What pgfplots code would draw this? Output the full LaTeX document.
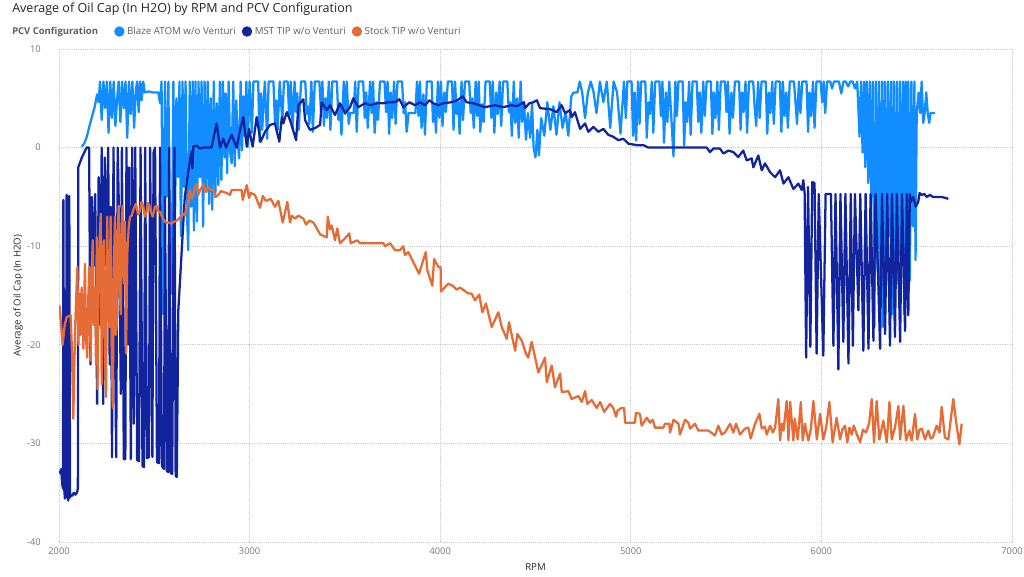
\documentclass[border=0pt]{standalone}
\usepackage{fontspec}
\setmainfont{Open Sans}
\usepackage{pgfplots}
\pgfplotsset{compat=1.18}
\definecolor{lb}{HTML}{118DFF}
\definecolor{db}{HTML}{12239E}
\definecolor{orng}{HTML}{E66C37}
\definecolor{titlec}{HTML}{252423}
\definecolor{legc}{HTML}{605E5C}
\definecolor{tickc}{HTML}{777777}
\definecolor{gridc}{HTML}{CCCCCC}
\begin{document}
\begin{tikzpicture}
\path[use as bounding box] (-44.25pt,-25.5pt) rectangle (723.75pt,406.5pt);
\begin{axis}[
 at={(0pt,0pt)}, anchor=south west, scale only axis,
 width=714.75pt, height=369.75pt,
 xmin=2000, xmax=7000, ymin=-40, ymax=10,
 xtick={2000,3000,4000,5000,6000,7000},
 ytick={-40,-30,-20,-10,0,10},
 axis line style={draw=none},
 major tick length=0pt,
 grid=major,
 major grid style={gridc, densely dotted, line width=0.7pt},
 /pgf/number format/1000 sep={},
 /pgf/number format/assume math mode=true,
 tick label style={font=\fontsize{7}{8}\selectfont, text=tickc},
 yticklabel style={anchor=east, inner sep=0pt},
 yticklabel={\pgfmathprintnumber{\tick}\hspace*{13.5pt}},
 xticklabel style={anchor=base, inner sep=0pt, yshift=-9pt},
 xlabel={RPM}, ylabel={Average of Oil Cap (In H2O)},
 label style={font=\fontsize{7.2}{8}\selectfont, text=titlec},
 xlabel style={at={(axis description cs:0.5,-0.0568)}, anchor=base},
 ylabel style={at={(axis description cs:-0.043,0.5)}, anchor=center},
 legend columns=-1,
 legend style={at={(axis description cs:0.0577,1.0355)}, anchor=west, draw=none, fill=none, inner sep=0pt, font=\fontsize{7.3}{8}\selectfont, text=legc, /tikz/every even column/.append style={column sep=2.5pt}},
 legend image code/.code={\fill[#1] (3pt,0pt) circle (3pt);},
 every axis plot/.append style={line width=1.7pt, line join=round},
]
% Blaze ATOM w/o Venturi
\addplot[color=lb] coordinates {
(2119,0.1)(2132,0.4)(2146,1.1)(2160,2.2)(2174,3.2)(2188,4.2)(2200,5.4)(2208,4.6)(2215,6.7)(2224,2.8)(2233,6.7)(2242,4.0)(2251,6.7)(2260,1.5)(2269,6.7)(2278,3.0)(2287,6.7)(2296,2.2)(2305,5.0)(2313,6.7)(2322,2.6)(2331,6.7)(2340,4.0)(2349,6.7)(2358,1.0)(2367,6.7)(2376,3.4)(2385,6.7)(2394,2.0)(2403,5.8)(2410,6.7)(2418,3.6)(2426,6.7)(2434,4.8)(2442,6.7)(2450,5.6)(2470,5.7)(2490,5.6)(2505,5.6)(2521,5.6)(2530,4.5)(2538,6.7)(2547,-16.9)(2556,6.7)(2565,-5.0)(2574,6.7)(2582,-12.0)(2591,-14.8)(2600,6.7)(2608,-8.0)(2616,5.0)(2624,-3.0)(2632,6.7)(2640,-9.0)(2648,6.7)(2656,-4.0)(2664,6.7)(2672,-7.0)(2678,-10.4)(2686,6.7)(2694,-6.0)(2702,6.7)(2708,-8.4)(2716,6.7)(2724,-7.5)(2732,6.7)(2740,-3.0)(2748,6.7)(2756,-8.0)(2764,6.7)(2772,-4.5)(2780,6.7)(2788,-5.7)(2796,5.0)(2804,-6.3)(2812,6.7)(2820,-5.0)(2828,4.5)(2836,-3.8)(2844,6.7)(2852,-3.3)(2860,6.7)(2868,-1.0)(2875,5.5)(2882,-2.6)(2890,6.7)(2898,-0.5)(2906,-1.6)(2914,6.7)(2922,-1.9)(2930,4.8)(2938,0.5)(2945,-1.1)(2953,6.7)(2960,-0.3)(2968,5.2)(2975,1.2)(2983,6.7)(2990,0.1)
(3000,6.7)(3012,1.5)(3020,6.7)(3045,6.7)(3052,0.6)(3060,5.5)(3066,1.8)(3080,6.7)(3092,0.9)(3100,6.7)(3125,6.7)(3133,2.5)(3140,4.8)(3147,1.8)(3158,6.7)(3172,2.6)(3180,6.7)(3200,6.7)(3208,3.0)(3216,6.7)(3226,2.0)(3236,6.7)(3244,3.6)(3250,5.5)(3258,1.8)(3270,6.7)(3292,6.7)(3300,3.4)(3306,4.2)(3314,2.4)(3324,6.7)(3332,1.6)(3342,6.7)(3366,6.7)(3374,3.8)(3382,6.7)(3390,2.2)(3398,5.0)(3406,3.0)(3416,6.7)(3424,1.8)(3434,6.7)(3458,6.7)(3466,2.8)(3474,4.4)(3482,1.3)(3494,6.7)(3502,3.4)(3510,6.7)(3520,2.4)(3528,3.5)(3546,3.5)(3554,6.7)(3562,1.6)(3572,6.7)(3596,6.7)(3604,3.0)(3612,5.6)(3620,2.0)(3632,6.7)(3640,3.5)(3648,6.7)(3656,1.5)(3666,4.6)(3674,2.8)(3684,6.7)(3708,6.7)(3716,3.6)(3724,6.7)(3732,1.4)(3740,5.6)(3748,3.0)(3758,6.7)(3766,2.4)(3776,6.7)(3800,6.7)(3808,3.5)(3816,4.6)(3824,1.6)(3834,3.5)(3870,3.5)(3878,6.7)(3886,3.2)(3894,6.7)(3902,2.0)(3912,5.4)(3920,1.3)(3930,6.7)(3955,6.7)(3962,2.6)(3970,4.4)(3978,1.5)(3988,6.7)(3996,3.0)(4004,6.7)(4012,2.2)(4022,5.6)(4030,3.6)(4040,6.7)(4062,6.7)(4070,1.8)(4078,6.7)(4086,3.4)(4094,4.6)(4102,1.4)(4112,6.7)(4120,2.8)(4130,6.7)(4152,6.7)(4160,3.5)(4168,5.0)(4176,2.0)(4186,6.7)(4194,3.2)(4202,6.7)(4210,1.6)(4220,4.4)(4228,2.6)(4238,6.7)(4260,6.7)(4268,3.0)(4276,6.7)(4284,1.5)(4294,5.6)(4302,3.4)(4312,6.7)(4320,2.2)(4330,6.7)(4352,6.7)(4360,3.6)(4368,4.6)(4376,1.2)(4386,6.7)(4394,2.5)(4404,5.0)(4412,1.0)(4422,6.7)(4430,2.6)(4440,4.4)(4450,0.8)(4460,3.5)(4472,1.0)(4482,4.5)(4490,0.0)(4500,-1.0)(4510,1.8)(4518,-0.8)(4530,3.0)(4546,1.2)(4562,4.6)(4578,1.8)(4594,4.2)(4610,1.3)(4626,4.6)(4642,2.0)(4658,3.6)(4672,1.2)(4688,5.2)(4700,5.6)(4720,5.6)(4732,6.7)(4745,5.6)(4760,3.0)(4775,5.6)(4790,6.7)(4805,5.6)(4820,3.5)(4838,6.7)(4856,4.6)(4874,6.7)(4892,2.0)(4910,6.7)(4928,5.6)(4946,1.4)(4964,6.7)(4974,3.0)(4982,6.7)(5004,6.7)(5012,1.2)(5020,5.6)(5028,0.7)(5038,6.7)(5046,2.4)(5054,6.7)(5076,6.7)(5084,1.0)(5092,4.6)(5100,3.4)(5110,6.7)(5118,1.5)(5128,6.7)(5150,6.7)(5158,3.2)(5166,6.7)(5174,0.5)(5184,5.6)(5192,2.6)(5202,6.7)(5224,-0.9)(5234,6.7)(5242,3.2)(5250,6.7)(5272,6.7)(5280,0.2)(5288,4.6)(5296,2.6)(5306,6.7)(5314,1.3)(5324,6.7)(5346,6.7)(5354,2.6)(5362,5.6)(5370,1.5)(5380,6.7)(5388,3.2)(5398,6.7)(5420,6.7)(5428,1.4)(5436,5.6)(5444,3.0)(5454,6.7)(5462,1.8)(5472,6.7)(5494,6.7)(5502,3.6)(5510,6.7)(5518,1.4)(5528,5.6)(5536,3.0)(5546,6.7)(5568,6.7)(5576,1.8)(5584,5.6)(5592,3.6)(5602,6.7)(5610,1.5)(5620,6.7)(5642,6.7)(5650,4.0)(5658,2.2)(5668,6.7)(5676,3.0)(5686,6.7)(5708,6.7)(5716,1.4)(5724,5.6)(5732,3.5)(5742,6.7)(5750,2.4)(5760,6.7)(5782,6.7)(5790,1.6)(5798,6.7)(5806,3.2)(5816,5.6)(5824,2.0)(5834,6.7)(5856,6.7)(5864,4.6)(5872,2.4)(5882,6.7)(5890,3.5)(5900,6.7)(5922,6.7)(5930,1.6)(5938,5.6)(5946,3.2)(5956,6.7)(5964,2.0)(5974,6.7)(5996,6.7)(6004,4.6)(6012,6.7)(6020,3.5)(6030,6.7)(6046,6.7)(6056,6.0)(6066,6.7)(6080,6.7)(6092,6.7)(6104,5.5)(6116,6.7)(6128,6.7)(6140,6.2)(6152,6.7)(6164,6.7)(6176,6.0)(6188,6.7)(6200,1.1)(6208,6.7)(6216,-0.5)(6224,6.7)(6230,-2.0)(6238,6.7)(6246,-3.6)(6254,6.7)(6262,-5.0)(6270,6.7)(6278,-18.2)(6286,6.7)(6294,-12.5)(6302,6.7)(6310,-15.0)(6318,6.7)(6325,-18.2)(6333,6.7)(6341,-10.0)(6349,6.7)(6357,-9.0)(6365,6.7)(6372,-16.9)(6380,6.7)(6388,-12.0)(6396,6.7)(6404,-13.8)(6412,6.7)(6420,-11.0)(6428,6.7)(6434,-16.9)(6442,6.7)(6448,-9.7)(6456,6.7)(6464,-13.5)(6472,6.7)(6480,-8.0)(6488,6.7)(6494,-11.4)(6500,3.5)(6510,5.6)(6518,3.5)(6526,6.7)(6534,2.5)(6542,3.5)(6550,5.6)(6558,3.5)(6566,2.5)(6572,3.5)(6585,3.5)(6596,3.5)
};
\addlegendentry{Blaze ATOM w/o Venturi}
% MST TIP w/o Venturi
\addplot[color=db] coordinates {
(2000,-32.8)(2006,-33.0)(2012,-32.6)(2016,-34.0)(2021,-34.6)(2023,-5.3)(2027,-34.5)(2031,-35.6)(2036,-35.2)(2040,-4.8)(2044,-35.3)(2049,-35.8)(2054,-4.9)(2058,-35.5)(2063,-35.2)(2070,-35.3)(2078,-35.0)(2086,-35.2)(2094,-35.0)(2099,-34.6)(2101,-2.0)(2120,-1.0)(2145,0.0)(2158,0.0)(2165,-22.0)(2172,-5.0)(2180,-12.0)(2190,-4.7)(2200,-26.0)(2208,-3.0)(2216,-18.0)(2224,0.0)(2232,-26.0)(2240,-1.0)(2250,-12.0)(2258,0.0)(2266,-22.0)(2272,-6.0)(2278,-31.4)(2286,0.0)(2294,-20.0)(2300,-31.4)(2308,0.0)(2316,-8.0)(2324,-25.0)(2330,0.0)(2340,-31.6)(2348,-31.6)(2354,0.0)(2362,-20.0)(2368,-2.0)(2377,-31.6)(2384,0.0)(2392,-28.0)(2400,0.0)(2410,-31.7)(2420,-31.8)(2428,0.0)(2438,-32.3)(2446,-32.4)(2452,0.0)(2462,-31.5)(2472,-31.4)(2478,0.0)(2490,-31.4)(2496,-0.5)(2504,0.0)(2514,-31.9)(2525,-32.0)(2530,0.0)(2540,-32.3)(2551,-32.6)(2556,-5.0)(2566,-32.8)(2573,-32.9)(2578,0.0)(2586,-33.0)(2594,-33.1)(2600,-12.0)(2606,0.0)(2612,-33.3)(2618,-33.4)(2626,-16.5)(2644,-10.4)(2660,-5.0)(2670,-3.6)(2687,-1.3)(2696,-0.4)(2700,-2.1)(2705,0.1)(2722,0.2)(2740,-0.1)(2757,0.0)(2800,0.0)(2827,2.45)(2845,0.0)(2862,0.9)(2876,0.0)(2906,1.3)(2932,0.0)(2950,1.8)(2967,3.1)(2985,0.1)(2997,1.9)(3016,0.1)(3037,3.1)(3058,0.6)(3081,1.6)(3107,2.3)(3133,2.45)(3156,0.6)(3169,3.1)(3177,2.45)(3195,3.6)(3212,2.8)(3244,0.75)(3256,4.3)(3282,4.9)(3291,2.8)(3317,1.8)(3345,2.0)(3370,2.3)(3378,4.6)(3405,3.8)(3422,4.3)(3448,3.3)(3474,4.5)(3501,3.5)(3527,4.1)(3544,5.0)(3570,4.1)(3606,4.5)(3632,4.3)(3667,4.5)(3702,4.5)(3728,4.6)(3763,4.6)(3786,4.9)(3807,4.1)(3838,4.6)(3868,4.3)(3894,4.6)(3920,4.3)(3943,4.8)(3964,4.5)(3990,4.3)(4016,4.5)(4060,4.6)(4090,4.8)(4118,5.2)(4139,4.6)(4174,4.5)(4235,4.1)(4288,4.3)(4331,4.1)(4375,4.3)(4402,4.2)(4440,4.6)(4445,4.0)(4468,4.5)(4489,4.6)(4507,4.8)(4524,4.0)(4576,3.9)(4611,3.6)(4637,4.3)(4655,3.5)(4681,3.8)(4690,3.1)(4707,3.6)(4734,1.9)(4760,2.45)(4777,1.6)(4804,2.1)(4830,1.6)(4856,1.9)(4882,1.3)(4908,1.1)(4935,0.75)(4961,0.9)(4987,0.4)(5031,0.25)(5066,0.25)(5092,0.0)(5398,0.0)(5415,-0.45)(5433,-0.1)(5468,-0.1)(5486,-0.6)(5512,-0.3)(5538,-0.45)(5564,-0.95)(5590,-0.3)(5608,-1.3)(5634,-1.1)(5643,-2.0)(5669,-0.8)(5687,-2.3)(5704,-1.6)(5731,-2.5)(5757,-3.0)(5783,-2.3)(5801,-3.65)(5827,-3.0)(5853,-4.2)(5879,-3.65)(5897,-4.3)(5905,-3.3)(5912,-4.6)(5920,-21.3)(5930,-4.0)(5942,-20.2)(5952,-3.5)(5964,-3.6)(5975,-20.9)(5986,-4.7)(6010,-21.1)(6022,-4.7)(6050,-4.7)(6063,-20.1)(6074,-4.7)(6089,-22.5)(6100,-4.7)(6115,-19.7)(6126,-4.7)(6142,-21.9)(6154,-4.7)(6165,-20.1)(6176,-4.7)(6194,-16.5)(6204,-4.7)(6220,-20.6)(6232,-4.7)(6247,-20.4)(6258,-4.7)(6273,-19.6)(6284,-4.7)(6296,-12.0)(6308,-20.4)(6318,-4.7)(6334,-18.9)(6345,-4.7)(6360,-20.1)(6370,-4.7)(6386,-19.2)(6396,-4.7)(6413,-19.7)(6423,-4.7)(6439,-18.6)(6448,-4.7)(6456,-17.0)(6464,-4.7)(6470,-5.5)(6482,-5.0)(6495,-6.0)(6508,-5.5)(6515,-4.6)(6526,-4.8)(6540,-4.7)(6552,-5.0)(6570,-4.8)(6585,-5.0)(6605,-5.0)(6630,-5.0)(6650,-5.1)(6666,-5.2)
};
\addlegendentry{MST TIP w/o Venturi}
% Stock TIP w/o Venturi
\addplot[color=orng] coordinates {
(2003,-16.0)(2019,-20.0)(2030,-18.0)(2040,-17.2)(2061,-17.0)(2068,-20.5)(2075,-27.5)(2085,-18.0)(2096,-12.1)(2102,-20.0)(2107,-14.8)(2113,-19.0)(2119,-14.2)(2128,-20.4)(2136,-11.8)(2142,-19.5)(2148,-21.3)(2154,-15.0)(2159,-12.1)(2166,-21.6)(2172,-12.5)(2177,-9.4)(2183,-18.0)(2189,-14.2)(2194,-22.0)(2198,-9.1)(2202,-24.5)(2206,-16.9)(2212,-10.0)(2219,-6.7)(2224,-24.0)(2230,-11.0)(2236,-9.4)(2241,-20.0)(2247,-25.3)(2253,-7.0)(2258,-15.0)(2264,-18.2)(2271,-7.0)(2276,-20.0)(2282,-26.4)(2288,-12.0)(2294,-7.0)(2298,-19.0)(2303,-17.9)(2308,-9.0)(2313,-5.9)(2318,-14.0)(2324,-16.9)(2329,-8.0)(2334,-5.9)(2341,-13.8)(2346,-7.5)(2352,-20.9)(2358,-10.8)(2366,-8.0)(2373,-7.0)(2381,-6.9)(2392,-6.2)(2404,-5.7)(2415,-6.8)(2425,-6.4)(2433,-5.5)(2442,-5.9)(2450,-7.0)(2460,-6.5)(2467,-5.6)(2474,-5.9)(2483,-6.6)(2492,-7.0)(2503,-6.0)(2513,-5.9)(2522,-6.5)(2530,-6.5)(2545,-7.2)(2561,-7.6)(2575,-7.6)(2591,-7.7)(2605,-7.5)(2618,-7.4)(2635,-7.1)(2649,-6.7)(2660,-6.9)(2670,-6.0)(2679,-5.5)(2687,-4.3)(2696,-5.2)(2705,-4.8)(2713,-4.0)(2723,-3.7)(2731,-4.8)(2740,-4.3)(2750,-4.0)(2757,-3.7)(2770,-4.5)(2783,-4.0)(2796,-4.3)(2810,-4.3)(2822,-5.0)(2836,-4.8)(2850,-4.4)(2862,-4.5)(2880,-4.6)(2897,-4.8)(2906,-4.3)(2932,-4.3)(2958,-4.3)(2964,-5.3)(2985,-3.8)(2997,-5.1)(3006,-4.6)(3028,-4.8)(3055,-6.1)(3069,-4.9)(3086,-5.4)(3111,-5.2)(3133,-6.0)(3151,-5.4)(3174,-7.6)(3198,-5.5)(3212,-7.6)(3221,-6.9)(3238,-7.2)(3256,-6.9)(3282,-7.2)(3296,-7.8)(3314,-7.4)(3335,-7.6)(3370,-8.8)(3405,-9.1)(3410,-7.0)(3422,-8.3)(3431,-7.9)(3448,-9.4)(3460,-8.2)(3474,-9.7)(3501,-9.2)(3523,-8.7)(3531,-9.7)(3565,-9.4)(3579,-9.7)(3702,-9.7)(3710,-10.0)(3737,-9.7)(3763,-10.4)(3789,-10.4)(3806,-10.0)(3815,-10.9)(3833,-10.6)(3889,-12.8)(3924,-10.6)(3933,-12.5)(3959,-14.0)(3968,-11.3)(3990,-12.1)(4002,-12.1)(4004,-14.6)(4042,-13.8)(4065,-14.0)(4086,-14.4)(4104,-14.2)(4148,-14.8)(4165,-14.8)(4183,-15.5)(4205,-14.9)(4221,-16.7)(4240,-15.8)(4270,-18.2)(4305,-16.7)(4323,-18.2)(4349,-19.4)(4361,-17.7)(4393,-20.6)(4405,-18.9)(4428,-19.6)(4450,-20.9)(4462,-21.3)(4480,-19.7)(4515,-22.8)(4550,-21.3)(4559,-23.8)(4585,-22.1)(4602,-24.3)(4629,-22.9)(4638,-24.8)(4672,-24.7)(4690,-25.5)(4725,-25.2)(4743,-25.8)(4760,-24.7)(4772,-26.0)(4795,-25.6)(4821,-26.4)(4839,-25.8)(4860,-26.8)(4891,-26.0)(4908,-26.4)(4923,-27.3)(4930,-26.7)(4950,-26.4)(4965,-26.4)(4970,-27.9)(5022,-27.9)(5027,-26.9)(5048,-27.0)(5057,-28.2)(5084,-27.4)(5101,-27.9)(5115,-27.6)(5127,-28.4)(5171,-28.4)(5180,-28.0)(5202,-28.0)(5206,-28.9)(5224,-27.6)(5250,-28.0)(5258,-29.1)(5285,-27.6)(5302,-27.9)(5311,-28.5)(5337,-28.0)(5354,-28.7)(5407,-28.7)(5442,-29.2)(5459,-28.2)(5477,-29.1)(5494,-28.9)(5521,-28.0)(5538,-28.9)(5552,-28.0)(5573,-29.1)(5599,-28.5)(5617,-28.4)(5629,-29.5)(5652,-28.0)(5675,-27.0)(5687,-28.5)(5704,-28.3)(5713,-29.1)(5731,-28.2)(5745,-28.9)(5757,-28.4)(5774,-25.5)(5783,-29.7)(5792,-28.0)(5801,-28.7)(5818,-25.7)(5827,-29.7)(5836,-25.8)(5853,-29.7)(5860,-27.5)(5867,-28.4)(5876,-29.6)(5892,-25.8)(5902,-29.7)(5914,-28.0)(5922,-28.9)(5932,-29.7)(5945,-28.5)(5958,-25.7)(5976,-29.6)(5993,-27.0)(6010,-29.6)(6025,-28.4)(6042,-25.8)(6059,-29.9)(6080,-27.4)(6098,-29.6)(6110,-28.6)(6124,-28.2)(6136,-29.9)(6147,-28.4)(6159,-29.1)(6170,-28.2)(6182,-28.9)(6203,-29.9)(6218,-28.6)(6234,-28.9)(6250,-28.0)(6264,-25.5)(6276,-29.9)(6290,-25.7)(6304,-29.6)(6325,-27.7)(6343,-29.9)(6357,-25.8)(6369,-29.6)(6386,-28.4)(6404,-26.2)(6413,-29.6)(6430,-26.2)(6444,-29.7)(6462,-28.7)(6474,-29.7)(6491,-27.0)(6503,-29.6)(6515,-28.6)(6526,-28.5)(6544,-29.6)(6561,-28.7)(6573,-29.5)(6584,-29.4)(6605,-28.2)(6620,-28.9)(6631,-26.3)(6648,-29.4)(6666,-29.6)(6678,-27.7)(6692,-25.5)(6708,-28.0)(6724,-30.1)(6736,-28.0)
};
\addlegendentry{Stock TIP w/o Venturi}
\end{axis}
\node[anchor=base west, inner sep=0pt, font=\fontsize{9.4}{11}\selectfont, text=titlec] at (-35.25pt,397.3pt) {Average of Oil Cap (In H2O) by RPM and PCV Configuration};
\node[anchor=base west, inner sep=0pt, font=\fontsize{7.1}{8}\selectfont\bfseries, text=legc] at (-35.25pt,380.25pt) {PCV Configuration};
\end{tikzpicture}
\end{document}
